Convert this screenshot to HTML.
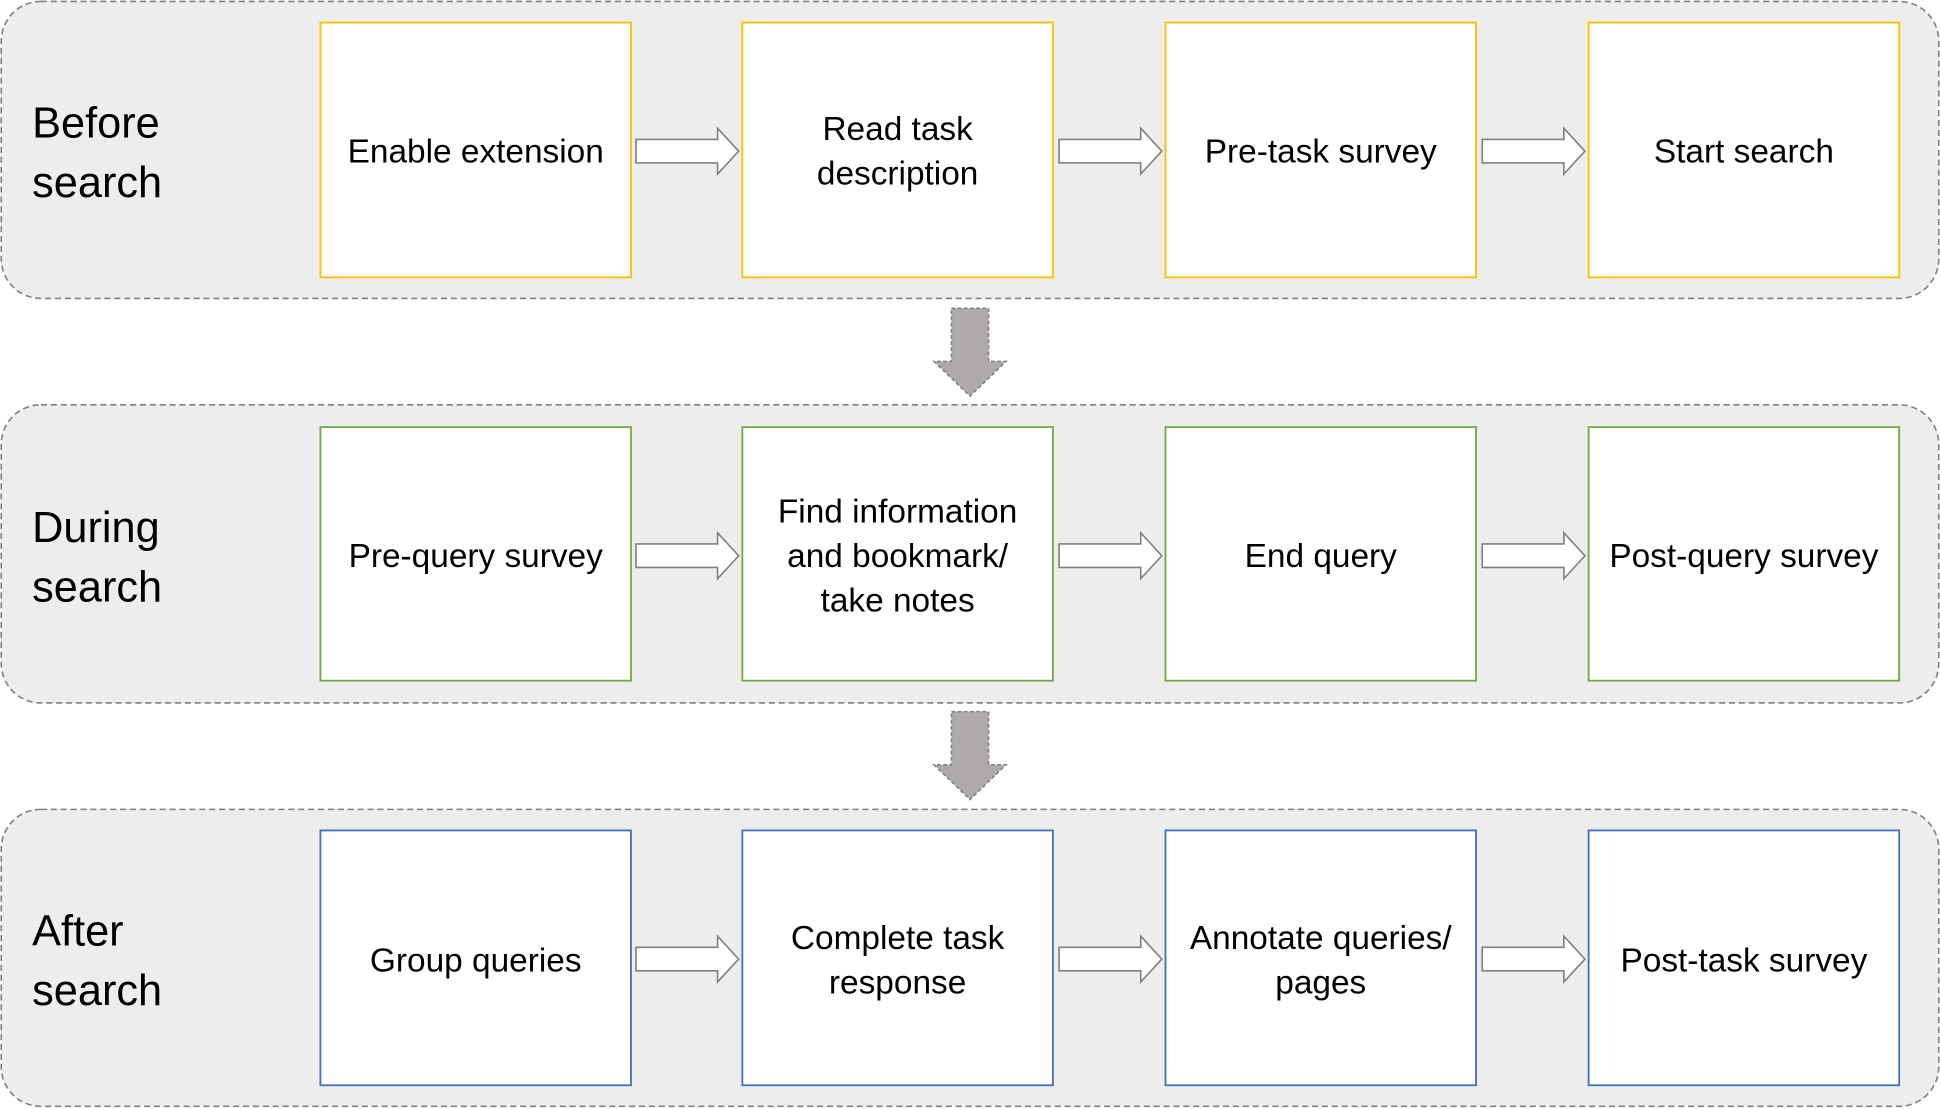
<!DOCTYPE html>
<html><head><meta charset="utf-8"><style>
html,body{margin:0;padding:0;background:#fff;}
svg{display:block;}
text{font-family:"Liberation Sans",sans-serif;fill:#000;}
</style></head><body>
<svg width="1940" height="1109" viewBox="0 0 1568 896" xmlns="http://www.w3.org/2000/svg">
<defs>
<g id="ra"><path d="M0,-9.5 H66 V-18.5 L83,0 L66,18.5 V9.5 H0 Z" fill="#fff" stroke="#808080" stroke-width="1.3"/></g>
</defs>
<g fill="#ededed" stroke="#808080" stroke-width="1.3" stroke-dasharray="5,3">
<rect x="1" y="1" width="1566" height="240" rx="32"/>
<rect x="1" y="327" width="1566" height="241" rx="32"/>
<rect x="1" y="654" width="1566" height="240" rx="32"/>
</g>
<g fill="#aeaaaa" stroke="#808080" stroke-width="1.3" stroke-dasharray="3,2">
<path d="M769,249 H799 V292 H813 L784,320 L755,292 H769 Z"/>
<path d="M769,575 H799 V618 H813 L784,646 L755,618 H769 Z"/>
</g>
<g fill="#fff" stroke-width="1.5">
<g stroke="#ffc000">
<rect x="259" y="18" width="251" height="206"/><rect x="600" y="18" width="251" height="206"/><rect x="942" y="18" width="251" height="206"/><rect x="1284" y="18" width="251" height="206"/>
</g>
<g stroke="#70ad47">
<rect x="259" y="345" width="251" height="205"/><rect x="600" y="345" width="251" height="205"/><rect x="942" y="345" width="251" height="205"/><rect x="1284" y="345" width="251" height="205"/>
</g>
<g stroke="#4472c4">
<rect x="259" y="671" width="251" height="206"/><rect x="600" y="671" width="251" height="206"/><rect x="942" y="671" width="251" height="206"/><rect x="1284" y="671" width="251" height="206"/>
</g>
</g>
<use href="#ra" x="514" y="122"/><use href="#ra" x="856" y="122"/><use href="#ra" x="1198" y="122"/>
<use href="#ra" x="514" y="449"/><use href="#ra" x="856" y="449"/><use href="#ra" x="1198" y="449"/>
<use href="#ra" x="514" y="775"/><use href="#ra" x="856" y="775"/><use href="#ra" x="1198" y="775"/>
<g font-size="35">
<text x="26" y="111">Before</text><text x="26" y="159">search</text>
<text x="26" y="438">During</text><text x="26" y="486">search</text>
<text x="26" y="764">After</text><text x="26" y="812">search</text>
</g>
<g font-size="27" text-anchor="middle">
<text x="384.5" y="131">Enable extension</text>
<text x="725.5" y="113">Read task</text><text x="725.5" y="149">description</text>
<text x="1067.5" y="131">Pre-task survey</text>
<text x="1409.5" y="131">Start search</text>
<text x="384.5" y="458">Pre-query survey</text>
<text x="725.5" y="422">Find information</text><text x="725.5" y="458">and bookmark/</text><text x="725.5" y="494">take notes</text>
<text x="1067.5" y="458">End query</text>
<text x="1409.5" y="458">Post-query survey</text>
<text x="384.5" y="785">Group queries</text>
<text x="725.5" y="767">Complete task</text><text x="725.5" y="803">response</text>
<text x="1067.5" y="767">Annotate queries/</text><text x="1067.5" y="803">pages</text>
<text x="1409.5" y="785">Post-task survey</text>
</g>
</svg>
</body></html>
